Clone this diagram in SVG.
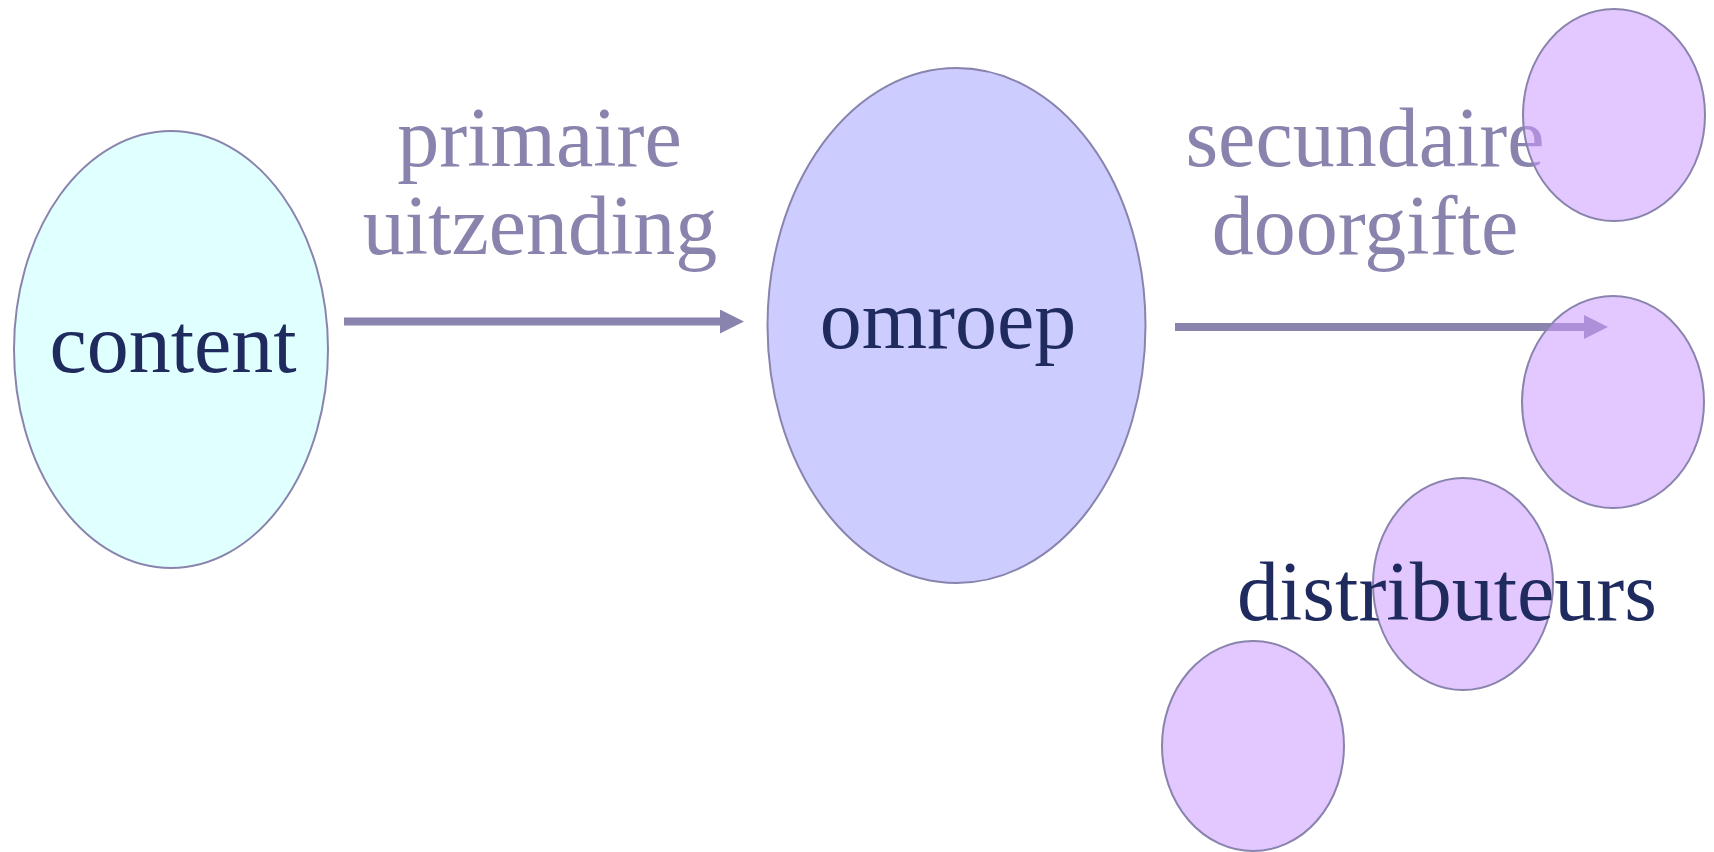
<svg xmlns="http://www.w3.org/2000/svg" width="1714" height="852" viewBox="0 0 1714 852">
<style>
.node{stroke:#8984AD;stroke-width:2}
.dist{fill:#CC99FF;fill-opacity:0.55;stroke:#8984AD;stroke-width:2}
.lbl{font-family:"Liberation Serif","Times New Roman",serif;font-size:84px;fill:#8984AD;text-anchor:middle}
.ntxt{font-family:"Liberation Serif","Times New Roman",serif;font-size:84px;fill:#1F2A5E;text-anchor:middle}
.conn{stroke:#8984AD;stroke-width:8;fill:none}
</style>
<defs>
<marker id="ah" markerUnits="userSpaceOnUse" markerWidth="24" markerHeight="24" refX="0" refY="12" orient="auto">
<polygon points="0,0 24,12 0,24" fill="#8984AD"/>
</marker>
</defs>
<rect width="1714" height="852" fill="#FFFFFF"/>
<g id="content">
<ellipse class="node" cx="171" cy="349.5" rx="157" ry="218.5" fill="#E0FFFF"/>
<text class="ntxt" x="173" y="372">content</text>
</g>
<g id="omroep">
<ellipse class="node" cx="956.5" cy="325.5" rx="189" ry="257.5" fill="#CCCCFF"/>
<text class="ntxt" x="948" y="348">omroep</text>
</g>
<g id="connectors">
<line class="conn" x1="344" y1="321.5" x2="720" y2="321.5" marker-end="url(#ah)"/>
<line class="conn" x1="1175" y1="327" x2="1584" y2="327" marker-end="url(#ah)"/>
</g>
<g id="labels">
<text class="lbl" x="539.5" y="166">primaire</text>
<text class="lbl" x="540" y="254">uitzending</text>
<text class="lbl" x="1365" y="166">secundaire</text>
<text class="lbl" x="1365" y="254">doorgifte</text>
</g>
<g id="distributeurs">
<ellipse class="dist" cx="1614" cy="115" rx="91" ry="106"/>
<ellipse class="dist" cx="1613" cy="402" rx="91" ry="106"/>
<ellipse class="dist" cx="1463" cy="584" rx="90" ry="106"/>
<ellipse class="dist" cx="1253" cy="746" rx="91" ry="105"/>
<text class="ntxt" x="1447" y="620">distributeurs</text>
</g>
</svg>
